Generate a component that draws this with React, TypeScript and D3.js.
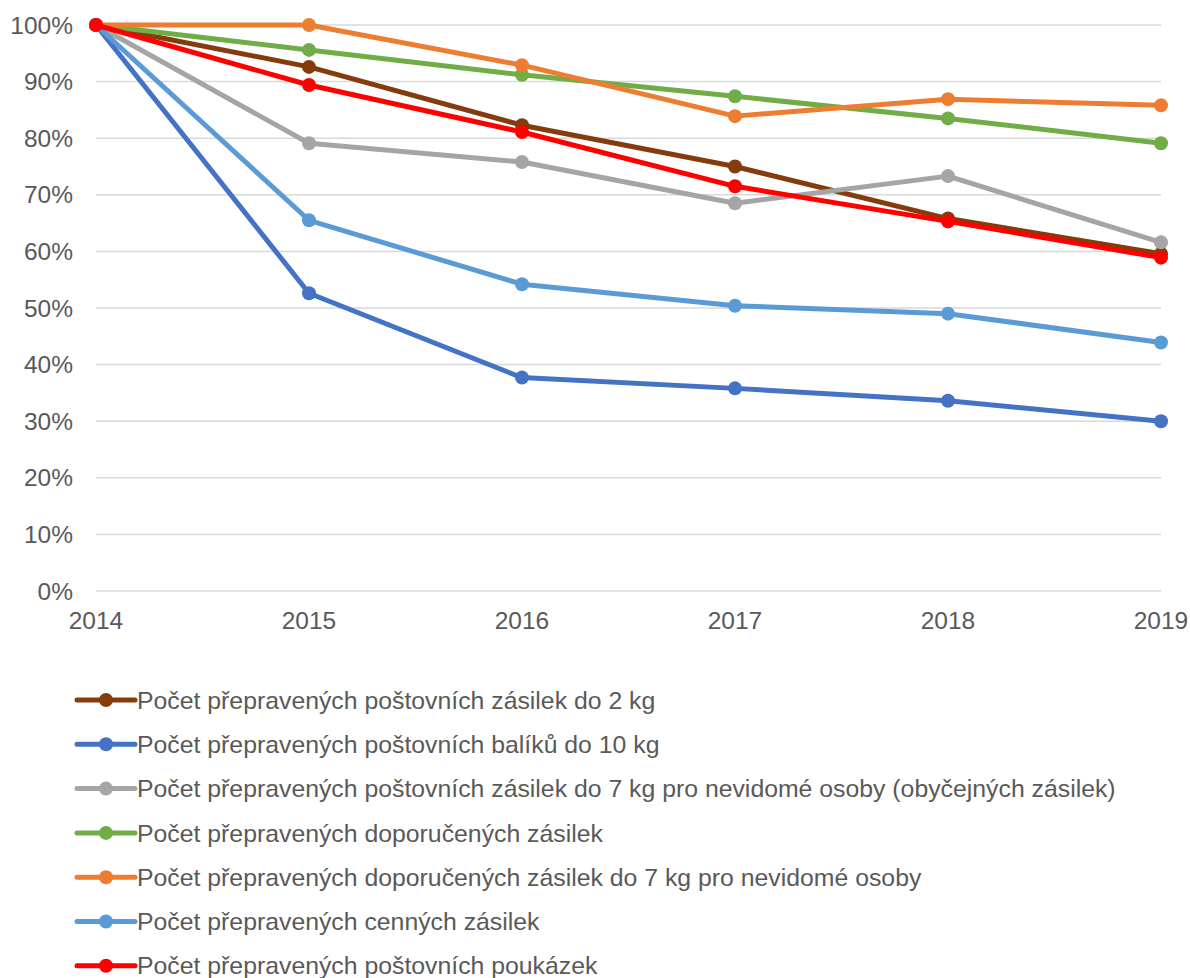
import * as d3 from "d3";
import React, {useEffect, useRef} from "react";

const years = [2014, 2015, 2016, 2017, 2018, 2019];
const yTicks = [0, 10, 20, 30, 40, 50, 60, 70, 80, 90, 100];

const names = [
    "Počet přepravených poštovních zásilek do 2 kg",
    "Počet přepravených poštovních balíků do 10 kg",
    "Počet přepravených poštovních zásilek do 7 kg pro nevidomé osoby (obyčejných zásilek)",
    "Počet přepravených doporučených zásilek",
    "Počet přepravených doporučených zásilek do 7 kg pro nevidomé osoby",
    "Počet přepravených cenných zásilek",
    "Počet přepravených poštovních poukázek"
];

const colors = ["#843C0C", "#4472C4", "#A5A5A5", "#70AD47", "#ED7D31", "#5B9BD5", "#FF0000"];

const zasilky2kg = [100, 92.6, 82.3, 75.0, 65.8, 59.6];
const baliky10kg = [100, 52.6, 37.7, 35.8, 33.6, 30.0];
const nevidomiObyc = [100, 79.1, 75.8, 68.5, 73.3, 61.6];
const doporucene = [100, 95.6, 91.2, 87.4, 83.5, 79.1];
const doporuceneNevidomi = [100, 100, 92.9, 83.9, 86.9, 85.8];
const cenne = [100, 65.5, 54.2, 50.4, 49.0, 43.9];
const poukazky = [100, 89.4, 81.1, 71.5, 65.3, 58.9];

const series = [zasilky2kg, baliky10kg, nevidomiObyc, doporucene, doporuceneNevidomi, cenne, poukazky];

const App = () => {
    const ref = useRef(null);
    const width = 1190
    const height = 978

    useEffect(() => {
        const svg = d3.select(ref.current);
        svg.selectAll("*").remove();

        const x = d3.scaleLinear().domain([2014, 2019]).range([96, 1161]);
        const y = d3.scaleLinear().domain([0, 100]).range([591, 25]);
        const font = "'Liberation Sans', Arial, sans-serif";

        // grid
        svg.append("g")
            .selectAll("line")
            .data(yTicks)
            .join("line")
            .attr("x1", x(2014))
            .attr("x2", x(2019))
            .attr("y1", d => y(d))
            .attr("y2", d => y(d))
            .attr("stroke", "#d9d9d9")
            .attr("stroke-width", 1.5);

        svg.append("g")
            .selectAll("text")
            .data(yTicks)
            .join("text")
            .attr("x", 73)
            .attr("y", d => y(d))
            .attr("dy", "0.35em")
            .attr("text-anchor", "end")
            .attr("font-family", font)
            .attr("font-size", 24.5)
            .attr("fill", "#595959")
            .text(d => d + "%");

        svg.append("g")
            .selectAll("text")
            .data(years)
            .join("text")
            .attr("x", d => x(d))
            .attr("y", 629)
            .attr("text-anchor", "middle")
            .attr("font-family", font)
            .attr("font-size", 24.5)
            .attr("fill", "#595959")
            .text(d => d);

        const line = d3.line()
            .x((d, i) => x(years[i]))
            .y(d => y(d));

        series.forEach((s, k) => {
            const g = svg.append("g");
            g.append("path")
                .attr("d", line(s))
                .attr("fill", "none")
                .attr("stroke", colors[k])
                .attr("stroke-width", 5)
                .attr("stroke-linejoin", "round");
            g.selectAll("circle")
                .data(s)
                .join("circle")
                .attr("cx", (d, i) => x(years[i]))
                .attr("cy", d => y(d))
                .attr("r", 7)
                .attr("fill", colors[k]);
        });

        // legend
        const legend = svg.append("g")
            .selectAll("g")
            .data(names)
            .join("g")
            .attr("transform", (d, i) => `translate(0, ${700 + i * 44.3})`);

        legend.append("line")
            .attr("x1", 77)
            .attr("x2", 135)
            .attr("stroke", (d, i) => colors[i])
            .attr("stroke-width", 5)
            .attr("stroke-linecap", "round");

        legend.append("circle")
            .attr("cx", 106)
            .attr("r", 7)
            .attr("fill", (d, i) => colors[i]);

        legend.append("text")
            .attr("x", 137)
            .attr("dy", "0.35em")
            .attr("font-family", font)
            .attr("font-size", 24.8)
            .attr("fill", "#595959")
            .text(d => d);
    }, []);

    return (
        <svg ref={ref} width={width} height={height} style={{position: "absolute", left: 0, top: 0}}/>
    )
}

export default App;
